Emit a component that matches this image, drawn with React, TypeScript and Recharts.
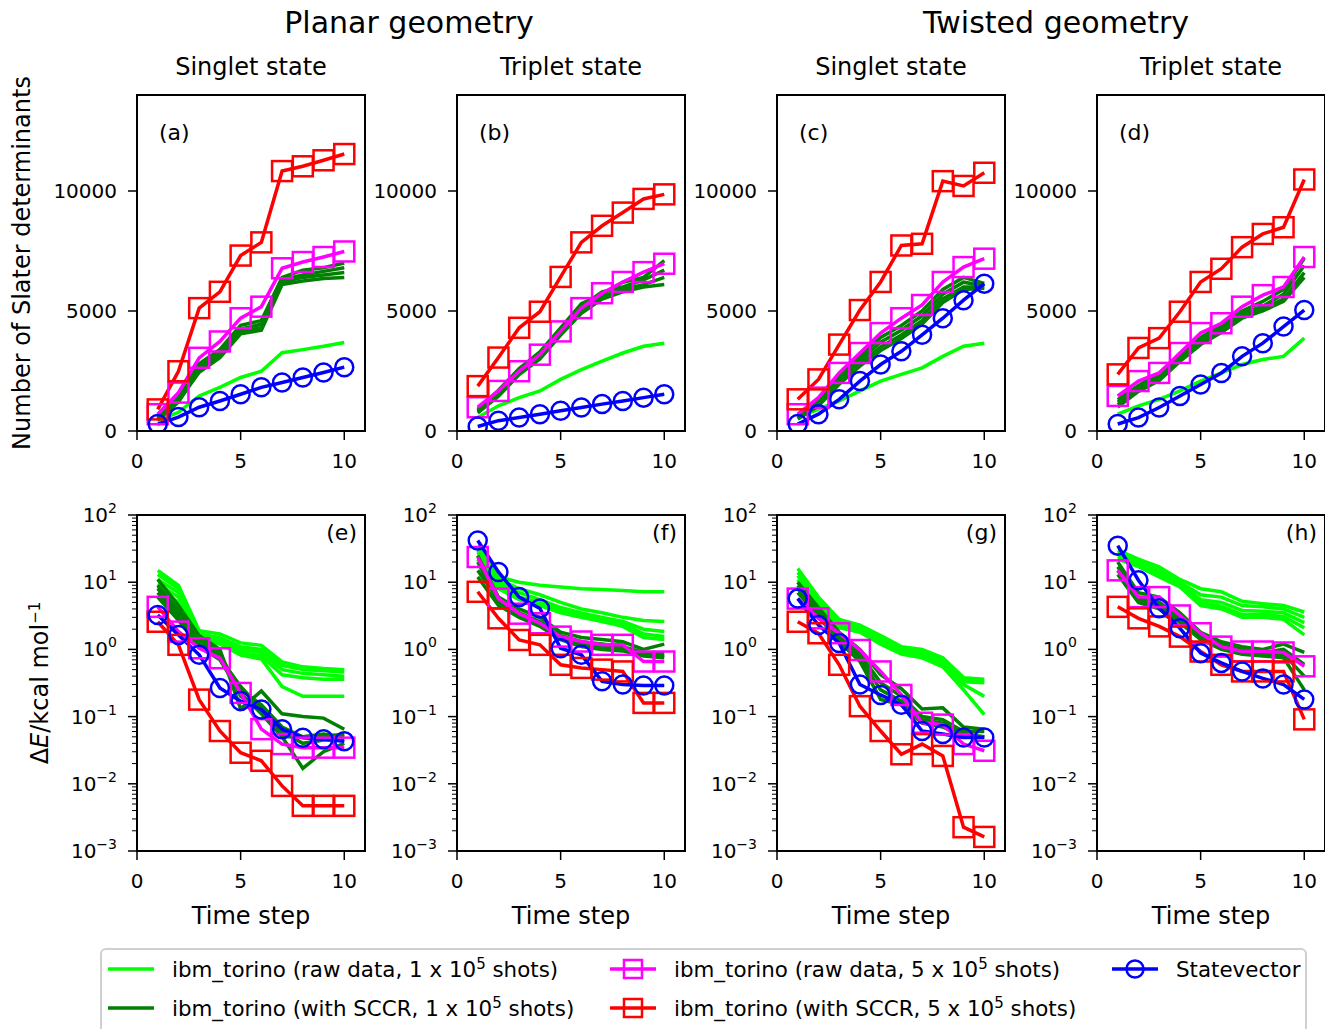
import { LineChart, Line, XAxis, YAxis } from 'recharts'

const STEPS = [1, 2, 3, 4, 5, 6, 7, 8, 9, 10]
const X_TICKS = [0, 5, 10]
const SLATER_TICKS = [0, 5000, 10000]

// (a) planar singlet, number of determinants
const A_RAW1 = [[430, 780, 1460, 1820, 2230, 2490, 3260, 3390, 3530, 3690]]
const A_SCCR1 = [
  [550, 1400, 2800, 3400, 4400, 4600, 6400, 6700, 6800, 7000],
  [500, 1300, 2650, 3250, 4250, 4450, 6300, 6500, 6650, 6800],
  [450, 1200, 2550, 3150, 4150, 4300, 6200, 6400, 6500, 6600],
  [500, 1250, 2450, 3050, 4050, 4200, 6100, 6250, 6350, 6400],
]
const A_RAW5 = [700, 1600, 3050, 3730, 4700, 5180, 6780, 7040, 7250, 7480]
const A_SCCR5 = [900, 2490, 5120, 5800, 7310, 7860, 10830, 11030, 11280, 11540]
const A_SV = [290, 580, 990, 1250, 1530, 1820, 2020, 2230, 2440, 2660]

// (b) planar triplet
const B_RAW1 = [[560, 1050, 1390, 1670, 2150, 2560, 2910, 3250, 3530, 3660]]
const B_SCCR1 = [
  [900, 1700, 2600, 3300, 4300, 5300, 5700, 6200, 6400, 7100],
  [850, 1600, 2500, 3200, 4200, 5200, 5800, 6000, 6300, 6700],
  [800, 1500, 2400, 3100, 4100, 5000, 5600, 5900, 6100, 6400],
  [750, 1450, 2350, 3000, 4000, 4900, 5500, 5800, 6000, 6100],
]
const B_RAW5 = [990, 1670, 2490, 3180, 4150, 5120, 5740, 6210, 6620, 6970]
const B_SCCR5 = [1870, 3060, 4300, 4970, 6420, 7860, 8550, 9100, 9670, 9860]
const B_SV = [190, 430, 560, 700, 840, 980, 1120, 1250, 1390, 1530]

// (c) twisted singlet
const C_RAW1 = [[560, 910, 1250, 1670, 2080, 2360, 2630, 3110, 3530, 3660]]
const C_SCCR1 = [
  [650, 1300, 2300, 3100, 3900, 4400, 5000, 5900, 6400, 6150],
  [600, 1200, 2150, 2950, 3700, 4200, 4800, 5700, 6200, 6050],
  [550, 1100, 2050, 2800, 3500, 4000, 4600, 5500, 6000, 6000],
  [500, 1050, 1950, 2700, 3350, 3850, 4450, 5350, 5900, 5950],
]
const C_RAW5 = [700, 1390, 2420, 3250, 4080, 4700, 5250, 6210, 6830, 7180]
const C_SCCR5 = [1320, 2150, 3600, 5040, 6210, 7730, 7800, 10410, 10210, 10760]
const C_SV = [290, 700, 1320, 2080, 2770, 3320, 4010, 4700, 5450, 6140]

// (d) twisted triplet
const D_RAW1 = [[700, 1050, 1320, 1670, 2080, 2420, 2770, 2980, 3110, 3870]]
const D_SCCR1 = [
  [1300, 1900, 2400, 3200, 3900, 4400, 5000, 5400, 5900, 7200],
  [1200, 1800, 2300, 3100, 3800, 4300, 4900, 5200, 5700, 6900],
  [1100, 1700, 2200, 3000, 3700, 4200, 4800, 5100, 5500, 6600],
  [1000, 1650, 2100, 2900, 3600, 4100, 4700, 5000, 5400, 6400],
]
const D_RAW5 = [1460, 2080, 2420, 3250, 4080, 4490, 5180, 5660, 6000, 7250]
const D_SCCR5 = [2360, 3460, 3870, 4970, 6210, 6760, 7660, 8210, 8490, 10480]
const D_SV = [290, 560, 980, 1460, 1940, 2420, 3110, 3660, 4350, 5040]

// (e) planar singlet, energy error
const E_RAW1 = [
  [15, 9, 1.9, 1.7, 1.25, 1.15, 0.65, 0.55, 0.52, 0.5],
  [13, 8, 1.7, 1.5, 1.1, 1.0, 0.58, 0.5, 0.48, 0.46],
  [11, 7, 1.6, 1.4, 1.0, 0.9, 0.5, 0.44, 0.42, 0.4],
  [9.5, 6, 1.5, 1.3, 0.9, 0.8, 0.42, 0.38, 0.36, 0.36],
  [8.5, 5, 1.4, 1.2, 0.82, 0.72, 0.28, 0.2, 0.2, 0.2],
]
const E_SCCR1 = [
  [11, 4.5, 1.6, 1.0, 0.13, 0.24, 0.11, 0.1, 0.095, 0.065],
  [9, 3.8, 1.4, 0.9, 0.2, 0.13, 0.05, 0.017, 0.03, 0.04],
  [8, 3.4, 1.3, 0.8, 0.25, 0.15, 0.07, 0.05, 0.055, 0.05],
  [7, 3.0, 1.2, 0.75, 0.28, 0.13, 0.06, 0.04, 0.045, 0.045],
  [6, 2.7, 1.1, 0.7, 0.22, 0.11, 0.05, 0.05, 0.05, 0.055],
]
const E_RAW5 = [4.3, 1.84, 1.04, 0.74, 0.225, 0.065, 0.039, 0.0345, 0.0345, 0.0345]
const E_SCCR5 = [2.58, 1.17, 0.179, 0.061, 0.029, 0.022, 0.0093, 0.0047, 0.0047, 0.0047]
const E_SV = [3.24, 1.64, 0.83, 0.267, 0.17, 0.128, 0.065, 0.0486, 0.046, 0.043]

// (f) planar triplet
const F_RAW1 = [
  [35, 12, 10, 9, 8.5, 8, 7.8, 7.5, 7.2, 7.2],
  [30, 11, 8, 6.5, 5, 4, 3.5, 3.0, 2.7, 2.6],
  [28, 10, 7, 5.5, 4.2, 3.5, 3.0, 2.6, 2.0, 1.85],
  [25, 9, 6, 5, 3.8, 3.2, 2.8, 2.4, 1.7, 1.55],
  [22, 8, 5.5, 4.5, 3.5, 3.0, 2.6, 2.2, 1.5, 1.4],
]
const F_SCCR1 = [
  [25, 6, 4, 3, 1.8, 1.5, 1.4, 1.3, 1.0, 1.2],
  [20, 5, 3.5, 2.6, 1.6, 1.3, 1.2, 1.1, 0.9, 0.8],
  [15, 5.5, 3.2, 2.4, 1.5, 1.2, 1.1, 1.0, 0.85, 0.9],
  [12, 4.5, 3, 2.2, 1.4, 1.1, 1.0, 0.95, 0.8, 0.75],
]
const F_RAW5 = [23.7, 5.7, 3.4, 2.45, 1.55, 1.31, 1.17, 1.17, 0.66, 0.66]
const F_SCCR5 = [7.2, 2.9, 1.38, 1.17, 0.59, 0.53, 0.5, 0.47, 0.16, 0.16]
const F_SV = [41.7, 14.2, 6, 4.06, 1.04, 0.83, 0.335, 0.3, 0.29, 0.29]

// (g) twisted singlet
const G_RAW1 = [
  [16, 6, 2.8, 2.3, 1.6, 1.1, 1.0, 0.75, 0.38, 0.36],
  [14, 5.5, 2.6, 2.1, 1.5, 1.0, 0.9, 0.7, 0.35, 0.34],
  [12.5, 5, 2.4, 2.0, 1.4, 0.95, 0.85, 0.65, 0.33, 0.32],
  [11, 4.5, 2.3, 1.9, 1.3, 0.9, 0.8, 0.6, 0.3, 0.2],
  [10, 4, 2.1, 1.8, 1.2, 0.85, 0.75, 0.55, 0.25, 0.107],
]
const G_SCCR1 = [
  [10, 4.2, 1.8, 1.0, 0.42, 0.26, 0.13, 0.135, 0.07, 0.065],
  [9, 3.8, 1.6, 0.85, 0.32, 0.2, 0.1, 0.09, 0.06, 0.06],
  [8, 3.4, 1.45, 0.75, 0.25, 0.17, 0.09, 0.08, 0.055, 0.05],
  [7, 3.1, 1.3, 0.66, 0.18, 0.15, 0.08, 0.07, 0.05, 0.05],
]
const G_RAW5 = [5.7, 2.9, 1.74, 0.98, 0.47, 0.21, 0.081, 0.076, 0.039, 0.031]
const G_SCCR5 = [2.58, 1.74, 0.59, 0.143, 0.061, 0.0275, 0.039, 0.026, 0.00226, 0.00162]
const G_SV = [5.7, 2.3, 1.24, 0.3, 0.21, 0.15, 0.061, 0.055, 0.049, 0.049]

// (h) twisted triplet
const H_RAW1 = [
  [30, 22, 17, 11, 8, 7.2, 5.2, 4.8, 4.5, 3.6],
  [28, 20, 15, 10, 6.5, 6.0, 4.5, 4.3, 4.0, 3.0],
  [26, 19, 14, 9.5, 5.5, 5.0, 3.8, 3.7, 3.5, 2.5],
  [24, 18, 13, 9, 5, 4.4, 3.3, 3.3, 3.1, 2.1],
  [22, 17, 12, 8.5, 4.5, 4.0, 3.0, 3.0, 2.8, 1.65],
]
const H_SCCR1 = [
  [20, 7, 6, 3.5, 1.8, 1.3, 1.1, 1.0, 1.2, 0.9],
  [17, 6, 5, 3, 1.6, 1.2, 1.0, 0.9, 1.0, 0.6],
  [15, 5.5, 4.5, 2.7, 1.5, 1.1, 0.9, 0.85, 0.85, 0.4],
  [13, 5, 4, 2.5, 1.4, 1.0, 0.85, 0.8, 0.75, 0.25],
]
const H_RAW5 = [15, 6.0, 6.0, 3.2, 1.74, 1.1, 0.93, 0.93, 0.9, 0.56]
const H_SCCR5 = [4.3, 2.9, 2.2, 1.55, 0.93, 0.59, 0.47, 0.47, 0.47, 0.091]
const H_SV = [35, 10.7, 4.1, 2.06, 0.88, 0.63, 0.47, 0.37, 0.3, 0.18]

const FONT = '"DejaVu Sans", sans-serif'
const LIME = '#00ff00'
const GREEN = '#008000'
const MAGENTA = '#ff00ff'
const RED = '#ff0000'
const BLUE = '#0000ff'

const PW = 228
const PH = 336
const COLS = [137, 457, 777, 1097]
const TOP_ROW = 95
const BOTTOM_ROW = 515
const AXIS_W = 92
const M_TOP = 20

const logTicks: number[] = []
for (let e = -3; e <= 1; e++) {
  for (let k = 1; k <= 9; k++) logTicks.push(k * Math.pow(10, e))
}
logTicks.push(100)

const panels = [
  { id: 'a', raw1: A_RAW1, sccr1: A_SCCR1, raw5: A_RAW5, sccr5: A_SCCR5, sv: A_SV, log: false, col: 0 },
  { id: 'b', raw1: B_RAW1, sccr1: B_SCCR1, raw5: B_RAW5, sccr5: B_SCCR5, sv: B_SV, log: false, col: 1 },
  { id: 'c', raw1: C_RAW1, sccr1: C_SCCR1, raw5: C_RAW5, sccr5: C_SCCR5, sv: C_SV, log: false, col: 2 },
  { id: 'd', raw1: D_RAW1, sccr1: D_SCCR1, raw5: D_RAW5, sccr5: D_SCCR5, sv: D_SV, log: false, col: 3 },
  { id: 'e', raw1: E_RAW1, sccr1: E_SCCR1, raw5: E_RAW5, sccr5: E_SCCR5, sv: E_SV, log: true, col: 0 },
  { id: 'f', raw1: F_RAW1, sccr1: F_SCCR1, raw5: F_RAW5, sccr5: F_SCCR5, sv: F_SV, log: true, col: 1 },
  { id: 'g', raw1: G_RAW1, sccr1: G_SCCR1, raw5: G_RAW5, sccr5: G_SCCR5, sv: G_SV, log: true, col: 2 },
  { id: 'h', raw1: H_RAW1, sccr1: H_SCCR1, raw5: H_RAW5, sccr5: H_SCCR5, sv: H_SV, log: true, col: 3 },
]

function buildRows(p: any) {
  return STEPS.map((t, i) => {
    const row: any = { t, raw5: p.raw5[i], sccr5: p.sccr5[i], sv: p.sv[i] }
    p.raw1.forEach((s: number[], k: number) => (row['raw1_' + k] = s[i]))
    p.sccr1.forEach((s: number[], k: number) => (row['sccr1_' + k] = s[i]))
    return row
  })
}

function XTick(props: any) {
  const { x, y, payload } = props
  return (
    <g>
      <line x1={x} y1={y} x2={x} y2={y + 9} stroke="#000" strokeWidth={1.5} />
      <text x={x} y={y + 37} textAnchor="middle" fontSize={20} fontFamily={FONT} fill="#000">
        {payload.value}
      </text>
    </g>
  )
}

function YTickLinear(props: any) {
  const { x, y, payload } = props
  return (
    <g>
      <line x1={x - 9} y1={y} x2={x} y2={y} stroke="#000" strokeWidth={1.5} />
      <text x={x - 20} y={y + 7} textAnchor="end" fontSize={20} fontFamily={FONT} fill="#000">
        {payload.value}
      </text>
    </g>
  )
}

function YTickLog(props: any) {
  const { x, y, payload } = props
  const e = Math.log10(payload.value)
  const major = Math.abs(e - Math.round(e)) < 1e-6
  if (!major) {
    return <line x1={x - 5} y1={y} x2={x} y2={y} stroke="#000" strokeWidth={1} />
  }
  const ex = Math.round(e)
  return (
    <g>
      <line x1={x - 9} y1={y} x2={x} y2={y} stroke="#000" strokeWidth={1.5} />
      <text x={x - 20} y={y + 7} textAnchor="end" fontSize={20} fontFamily={FONT} fill="#000">
        10
        <tspan fontSize={14} dy={-9}>
          {ex < 0 ? '\u2212' + Math.abs(ex) : String(ex)}
        </tspan>
      </text>
    </g>
  )
}

const squareDot = (color: string) => (props: any) => (
  <rect
    key={'sq' + props.index}
    x={props.cx - 10}
    y={props.cy - 10}
    width={20}
    height={20}
    fill="none"
    stroke={color}
    strokeWidth={2.5}
  />
)

function Panel({ p }: { p: any }) {
  const data = buildRows(p)
  const left = COLS[p.col]
  const top = p.log ? BOTTOM_ROW : TOP_ROW
  const W = AXIS_W + PW + 2
  const H = M_TOP + PH + 45
  return (
    <>
      <div style={{ position: 'absolute', left: left - AXIS_W, top: top - M_TOP }}>
        <LineChart width={W} height={H} data={data} margin={{ top: M_TOP, right: 2, bottom: 0, left: 0 }}>
          <XAxis
            dataKey="t"
            type="number"
            domain={[0, 11]}
            ticks={X_TICKS}
            interval={0}
            axisLine={false}
            tickLine={false}
            tickSize={0}
            tickMargin={0}
            height={45}
            tick={(tp: any) => <XTick {...tp} />}
          />
          {p.log ? (
            <YAxis
              type="number"
              scale="log"
              domain={[0.001, 100]}
              allowDataOverflow
              ticks={logTicks}
              interval={0}
              axisLine={false}
              tickLine={false}
              tickSize={0}
              tickMargin={0}
              width={AXIS_W}
              tick={(tp: any) => <YTickLog {...tp} />}
            />
          ) : (
            <YAxis
              type="number"
              domain={[0, 14000]}
              allowDataOverflow
              ticks={SLATER_TICKS}
              interval={0}
              axisLine={false}
              tickLine={false}
              tickSize={0}
              tickMargin={0}
              width={AXIS_W}
              tick={(tp: any) => <YTickLinear {...tp} />}
            />
          )}
          {p.raw1.map((_: any, k: number) => (
            <Line
              key={'r1' + k}
              dataKey={'raw1_' + k}
              stroke={LIME}
              strokeWidth={3.5}
              dot={false}
              activeDot={false}
              isAnimationActive={false}
            />
          ))}
          {p.sccr1.map((_: any, k: number) => (
            <Line
              key={'s1' + k}
              dataKey={'sccr1_' + k}
              stroke={GREEN}
              strokeWidth={3.5}
              dot={false}
              activeDot={false}
              isAnimationActive={false}
            />
          ))}
          <Line dataKey="raw5" stroke={MAGENTA} strokeWidth={3.5} dot={squareDot(MAGENTA)} activeDot={false} isAnimationActive={false} />
          <Line dataKey="sccr5" stroke={RED} strokeWidth={3.5} dot={squareDot(RED)} activeDot={false} isAnimationActive={false} />
          <Line
            dataKey="sv"
            stroke={BLUE}
            strokeWidth={3.5}
            dot={{ r: 9, fill: 'none', stroke: BLUE, strokeWidth: 2.5 }}
            activeDot={false}
            isAnimationActive={false}
          />
        </LineChart>
      </div>
      <div
        style={{
          position: 'absolute',
          left: left - 1,
          top: top - 1,
          width: PW + 2,
          height: PH + 2,
          border: '2px solid #000',
          boxSizing: 'border-box',
          pointerEvents: 'none',
        }}
      />
      <div
        style={{
          position: 'absolute',
          top: p.log ? top + 7 : top + 27,
          left: p.log ? undefined : left + 22,
          right: p.log ? 1325 - (left + PW - 8) : undefined,
          fontSize: 22,
          lineHeight: 1,
          fontFamily: FONT,
        }}
      >
        ({p.id})
      </div>
    </>
  )
}

function Centered({ x, y, size, children, rotate }: any) {
  return (
    <div
      style={{
        position: 'absolute',
        left: x,
        top: y,
        transform: `translate(-50%, -50%)${rotate ? ' rotate(-90deg)' : ''}`,
        fontSize: size,
        fontFamily: FONT,
        whiteSpace: 'nowrap',
        lineHeight: 1,
      }}
    >
      {children}
    </div>
  )
}

function Handle({ color, marker }: { color: string; marker?: 'square' | 'circle' }) {
  return (
    <svg width={46} height={24} style={{ display: 'block' }}>
      <line x1={0} y1={12} x2={46} y2={12} stroke={color} strokeWidth={3.5} />
      {marker === 'square' && <rect x={14} y={3} width={18} height={18} fill="none" stroke={color} strokeWidth={2.5} />}
      {marker === 'circle' && <circle cx={23} cy={12} r={8.5} fill="none" stroke={color} strokeWidth={2.5} />}
    </svg>
  )
}

function LegendItem({ x, y, color, marker, children }: any) {
  return (
    <div style={{ position: 'absolute', left: x, top: y - 12, display: 'flex', alignItems: 'center', height: 24 }}>
      <Handle color={color} marker={marker} />
      <span style={{ marginLeft: 18, fontSize: 21.4, fontFamily: FONT, whiteSpace: 'nowrap' }}>{children}</span>
    </div>
  )
}

const sup = (s: string) => <sup style={{ fontSize: 15, verticalAlign: 0, position: 'relative', top: -8 }}>{s}</sup>

export default function App() {
  const titleCenters = COLS.map((c) => c + PW / 2)
  return (
    <div
      style={{
        position: 'absolute',
        left: 0,
        top: 0,
        width: 1325,
        height: 1029,
        overflow: 'hidden',
        background: '#fff',
        color: '#000',
      }}
    >
      <Centered x={409} y={23} size={30}>Planar geometry</Centered>
      <Centered x={1056} y={23} size={30}>Twisted geometry</Centered>
      <Centered x={titleCenters[0]} y={67} size={24}>Singlet state</Centered>
      <Centered x={titleCenters[1]} y={67} size={24}>Triplet state</Centered>
      <Centered x={titleCenters[2]} y={67} size={24}>Singlet state</Centered>
      <Centered x={titleCenters[3]} y={67} size={24}>Triplet state</Centered>
      <Centered x={22} y={263} size={24} rotate>Number of Slater determinants</Centered>
      <Centered x={40} y={683} size={24} rotate>
        Δ<i>E</i>/kcal mol{sup('\u22121')}
      </Centered>
      {titleCenters.map((c, i) => (
        <Centered key={i} x={c} y={916} size={24}>Time step</Centered>
      ))}
      {panels.map((p) => (
        <Panel key={p.id} p={p} />
      ))}
      <div
        style={{
          position: 'absolute',
          left: 100,
          top: 948,
          width: 1207,
          height: 100,
          border: '2px solid #d0d0d0',
          borderRadius: 6,
          boxSizing: 'border-box',
          background: 'rgba(255,255,255,0.8)',
        }}
      />
      <LegendItem x={108} y={969} color={LIME}>ibm_torino (raw data, 1 x 10{sup('5')} shots)</LegendItem>
      <LegendItem x={108} y={1008} color={GREEN}>ibm_torino (with SCCR, 1 x 10{sup('5')} shots)</LegendItem>
      <LegendItem x={610} y={969} color={MAGENTA} marker="square">ibm_torino (raw data, 5 x 10{sup('5')} shots)</LegendItem>
      <LegendItem x={610} y={1008} color={RED} marker="square">ibm_torino (with SCCR, 5 x 10{sup('5')} shots)</LegendItem>
      <LegendItem x={1112} y={969} color={BLUE} marker="circle">Statevector</LegendItem>
    </div>
  )
}
